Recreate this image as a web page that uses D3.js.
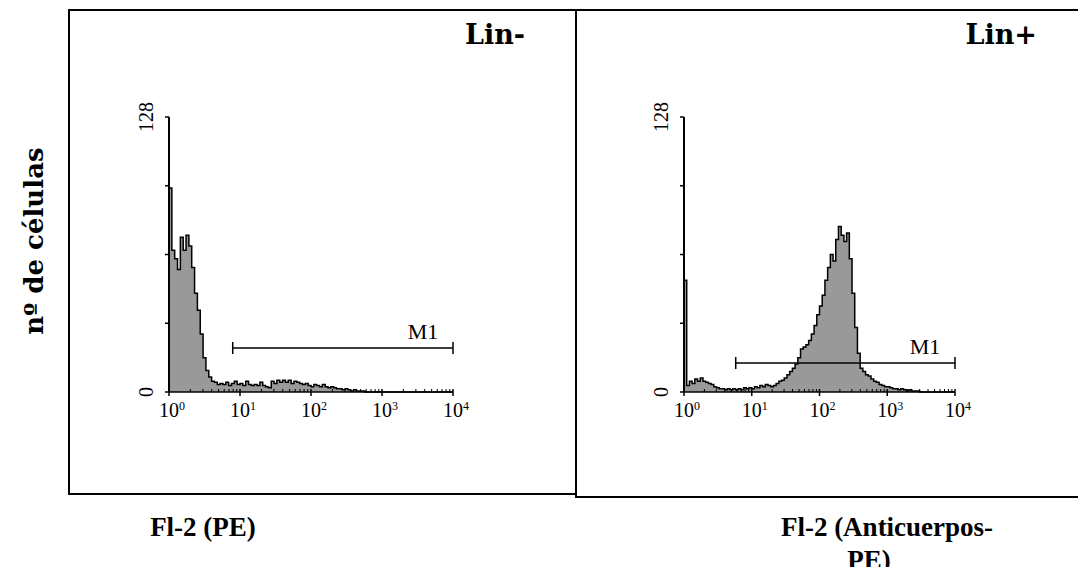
<!DOCTYPE html>
<html>
<head>
<meta charset="utf-8">
<script src="https://cdn.jsdelivr.net/npm/d3@7"></script>
<style>
  body { margin: 0; background: #fff; }
  svg { display: block; }
</style>
</head>
<body>
<svg id="chart" width="1078" height="567"></svg>
<script>
// histogram counts, 25 channels per decade, log range 10^0..10^4
const binsPerDecade = 25;
const linNeg = [
  95, 66, 62, 57, 72, 66, 73, 68, 58, 46,
  38, 27, 16, 10, 7, 5, 4.5, 3.5, 4, 3.5,
  4.5, 3, 4, 5, 3.5, 4, 3, 5, 3.5, 3,
  3.5, 3, 4.5, 3, 2.5, 2, 5, 4, 5.5, 4.5,
  5.5, 4.5, 5.5, 4, 5, 4.5, 4, 3.5, 4, 3,
  2.5, 3.5, 3, 2.5, 3.5, 2.5, 2, 2.5, 2, 1.5,
  1.5, 1, 1.5, 1, 0.5, 1, 0.5, 0.5, 0.5, 0,
  0, 0, 0, 0, 0, 0, 0, 0, 0, 0,
  0, 0, 0, 0, 0, 0, 0, 0, 0, 0,
  0, 0, 0, 0, 0, 0, 0, 0, 0, 0
];
const linPos = [
  52, 3, 5, 4, 6, 5, 6.5, 5, 4.5, 4,
  3.5, 2.5, 2, 1.5, 1.5, 1, 1.5, 1, 1.5, 1,
  1.5, 1, 2, 1.5, 2, 1.5, 2.5, 2, 3, 2.5,
  3.5, 3, 2.5, 3, 4, 5, 5.5, 6.5, 8, 9.5,
  11, 13, 16, 20, 21, 22, 24, 27, 31, 36,
  40, 45, 52, 58, 64, 61, 71, 77, 73, 70,
  74, 62, 46, 30, 18, 11, 9.5, 8, 7.5, 6,
  5, 4.5, 3.5, 3, 2.5, 2.5, 2, 1.5, 1.5, 1,
  1.5, 1, 0.5, 1, 0.5, 0.5, 0.5, 0, 0, 0,
  0, 0, 0, 0, 0, 0, 0, 0, 0, 0
];
const decades = [0, 1, 2, 3, 4];
const yTicks = [0, 32, 64, 96, 128];
const yLabels = [0, 128];
const markers = [
  { label: "M1", from: 7.9, to: 10000, level: 20.5 },
  { label: "M1", from: 5.8, to: 10000, level: 13.5 }
];
const titles = ["Lin-", "Lin+"];

const svg = d3.select("#chart");

// panel frames
svg.append("rect").attr("x", 69).attr("y", 10).attr("width", 507).attr("height", 484)
  .attr("fill", "none").attr("stroke", "#000").attr("stroke-width", 2);
svg.append("path").attr("d", "M576,10 H1080 M576,10 V497 H1080")
  .attr("fill", "none").attr("stroke", "#000").attr("stroke-width", 2);

const panels = [
  { data: linNeg, x0: 169, x1: 453, marker: markers[0], title: titles[0], tx: 525 },
  { data: linPos, x0: 684, x1: 955, marker: markers[1], title: titles[1], tx: 1037 }
];

const plotTop = 117, plotBottom = 392;
const y = d3.scaleLinear().domain([0, 128]).range([plotBottom, plotTop]);

panels.forEach(p => {
  const x = d3.scaleLog().domain([1, 10000]).range([p.x0, p.x1]);
  const g = svg.append("g");

  const pts = p.data.map((c, i) => ({ e: Math.pow(10, i / binsPerDecade), c: c }));
  pts.push({ e: 10000, c: p.data[p.data.length - 1] });

  g.append("path").datum(pts)
    .attr("fill", "#999")
    .attr("d", d3.area().curve(d3.curveStepAfter).x(d => x(d.e)).y0(y(0)).y1(d => y(d.c)));
  g.append("path").datum(pts)
    .attr("fill", "none").attr("stroke", "#000").attr("stroke-width", 1.5)
    .attr("d", d3.line().curve(d3.curveStepAfter).x(d => x(d.e)).y(d => y(d.c)));

  // y axis
  g.append("line").attr("x1", p.x0).attr("x2", p.x0).attr("y1", plotTop).attr("y2", plotBottom)
    .attr("stroke", "#000").attr("stroke-width", 2);
  g.selectAll(".yt").data(yTicks).join("line")
    .attr("x1", p.x0 - 4).attr("x2", p.x0).attr("y1", d => y(d)).attr("y2", d => y(d))
    .attr("stroke", "#000").attr("stroke-width", 1.5);
  g.selectAll(".yl").data(yLabels).join("text")
    .attr("transform", d => `translate(${p.x0 - 16},${y(d)}) rotate(-90)`)
    .attr("text-anchor", "middle")
    .attr("font-family", "Liberation Serif").attr("font-size", 20)
    .text(d => d);

  // x axis
  g.append("line").attr("x1", p.x0).attr("x2", p.x1).attr("y1", plotBottom).attr("y2", plotBottom)
    .attr("stroke", "#000").attr("stroke-width", 1.5);
  const minor = [];
  decades.slice(0, 4).forEach(dd => d3.range(2, 10).forEach(m => minor.push(m * Math.pow(10, dd))));
  g.selectAll(".xm").data(minor).join("line")
    .attr("x1", d => x(d)).attr("x2", d => x(d)).attr("y1", plotBottom - 3).attr("y2", plotBottom)
    .attr("stroke", "#000").attr("stroke-width", 1);
  g.selectAll(".xt").data(decades).join("line")
    .attr("x1", d => x(Math.pow(10, d))).attr("x2", d => x(Math.pow(10, d)))
    .attr("y1", plotBottom - 3).attr("y2", plotBottom + 4)
    .attr("stroke", "#000").attr("stroke-width", 1.5);
  const xl = g.selectAll(".xl").data(decades).join("text")
    .attr("x", d => x(Math.pow(10, d)) + 3).attr("y", 417)
    .attr("text-anchor", "middle")
    .attr("font-family", "Liberation Serif").attr("font-size", 20);
  xl.append("tspan").text("10");
  xl.append("tspan").attr("font-size", 12).attr("dy", -7).text(d => d);

  // M1 marker
  const m = p.marker;
  const my = y(m.level);
  g.append("path")
    .attr("d", `M${x(m.from)},${my - 6}V${my + 6}M${x(m.from)},${my}H${x(m.to)}M${x(m.to)},${my - 6}V${my + 6}`)
    .attr("fill", "none").attr("stroke", "#000").attr("stroke-width", 1.5);
  g.append("text").attr("x", x(m.to) - 30).attr("y", my - 9)
    .attr("text-anchor", "middle")
    .attr("font-family", "Liberation Serif").attr("font-size", 22)
    .text(m.label);

  // panel title
  svg.append("text").attr("x", p.tx).attr("y", 44).attr("text-anchor", "end")
    .attr("font-family", "DejaVu Serif").attr("font-weight", "bold").attr("font-size", 27)
    .text(p.title);
});

// axis titles
svg.append("text").attr("transform", "translate(43,241) rotate(-90)")
  .attr("text-anchor", "middle")
  .attr("font-family", "DejaVu Serif").attr("font-weight", "bold").attr("font-size", 26)
  .text("nº de células");
svg.append("text").attr("x", 203).attr("y", 536).attr("text-anchor", "middle")
  .attr("font-family", "Liberation Serif").attr("font-weight", "bold").attr("font-size", 27)
  .text("Fl-2 (PE)");
svg.append("text").attr("x", 887).attr("y", 536).attr("text-anchor", "middle")
  .attr("font-family", "Liberation Serif").attr("font-weight", "bold").attr("font-size", 27)
  .text("Fl-2 (Anticuerpos-");
svg.append("text").attr("x", 869).attr("y", 569).attr("text-anchor", "middle")
  .attr("font-family", "Liberation Serif").attr("font-weight", "bold").attr("font-size", 27)
  .text("PE)");
</script>
</body>
</html>
